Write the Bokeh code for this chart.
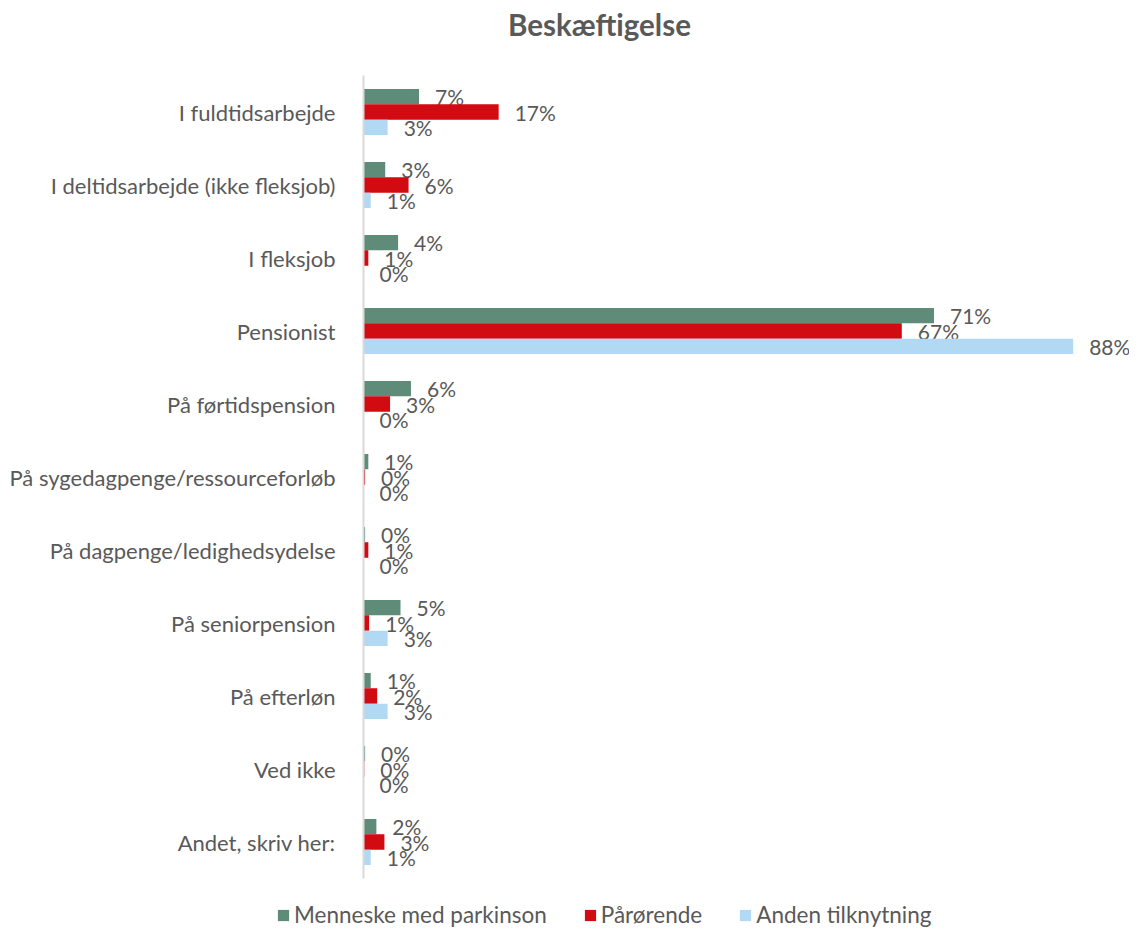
from bokeh.plotting import figure
from bokeh.models import FactorRange, Range1d, Legend, LegendItem, ColumnDataSource, Label
from bokeh.transform import dodge
from bokeh.core.properties import value
from bokeh.embed import file_html
from bokeh.resources import INLINE

categories = [
    "I fuldtidsarbejde",
    "I deltidsarbejde (ikke fleksjob)",
    "I fleksjob",
    "Pensionist",
    "På førtidspension",
    "På sygedagpenge/ressourceforløb",
    "På dagpenge/ledighedsydelse",
    "På seniorpension",
    "På efterløn",
    "Ved ikke",
    "Andet, skriv her:",
]
series_names = ["Menneske med parkinson", "Pårørende", "Anden tilknytning"]
parkinson = [6.9, 2.7, 4.3, 70.9, 5.9, 0.6, 0.2, 4.6, 0.9, 0.2, 1.6]
paaroerende = [16.8, 5.6, 0.6, 66.9, 3.3, 0.2, 0.6, 0.7, 1.7, 0.1, 2.6]
anden = [3.0, 0.9, 0.0, 88.2, 0.0, 0.0, 0.0, 3.0, 3.0, 0.0, 0.9]
colors = ["#5F8C78", "#D20A11", "#B1D9F3"]
title_text = "Beskæftigelse"

FONT = "Lato"
TXT = "#595959"
W = 1129


def labels(vals):
    return [f"{round(v):.0f}%" for v in vals]


def strip(height):
    f = figure(width=W, height=height, x_range=Range1d(0, 1), y_range=Range1d(0, 1),
               output_backend="svg", toolbar_location=None,
               min_border_left=0, min_border_right=0, min_border_top=0, min_border_bottom=0)
    f.outline_line_color = None
    f.xaxis.visible = False
    f.yaxis.visible = False
    f.xgrid.grid_line_color = None
    f.ygrid.grid_line_color = None
    return f


# title strip
tt = strip(48)
tt.add_layout(Label(x=599, y=24, x_units="screen", y_units="screen", text=title_text,
                    text_align="center", text_baseline="middle", text_font=FONT,
                    text_font_style="bold", text_font_size="29.5px", text_color=TXT))

src = ColumnDataSource(dict(
    cat=categories,
    s0=parkinson, s1=paaroerende, s2=anden,
    l0=labels(parkinson), l1=labels(paaroerende), l2=labels(anden),
))

p = figure(width=W, height=847,
           y_range=FactorRange(*categories[::-1]),
           x_range=Range1d(0, 95.2),
           output_backend="svg", toolbar_location=None,
           min_border_left=363, min_border_right=0,
           min_border_top=27, min_border_bottom=17)
p.outline_line_color = None
p.xaxis.visible = False
p.xgrid.grid_line_color = None
p.ygrid.grid_line_color = None
p.yaxis.axis_line_color = "#D9D9D9"
p.yaxis.axis_line_width = 2
p.yaxis.major_tick_line_color = None
p.yaxis.minor_tick_line_color = None
p.yaxis.major_label_standoff = 22
p.yaxis.major_label_text_font = FONT
p.yaxis.major_label_text_font_size = "22px"
p.yaxis.major_label_text_color = TXT

offsets = [0.21, 0.0, -0.21]
for i in range(3):
    p.hbar(y=dodge("cat", offsets[i], range=p.y_range), left=0, right=f"s{i}",
           height=0.21, fill_color=colors[i], line_color=None, source=src)
    p.text(x=f"s{i}", y=dodge("cat", offsets[i], range=p.y_range), text=f"l{i}",
           x_offset=16, text_align="left", text_baseline="middle",
           text_font=value(FONT), text_font_size="21px", text_color=TXT, source=src)

# legend strip
lg = strip(33)
items = []
for i in range(3):
    r = lg.hbar(y=[-10], left=[0], right=[1], height=0.5, fill_color=colors[i], line_color=None)
    items.append(LegendItem(label=series_names[i], renderers=[r]))
legend = Legend(items=items, orientation="horizontal", location=(276, 0),
                border_line_color=None, background_fill_alpha=0,
                padding=0, margin=0, spacing=36,
                glyph_width=14, glyph_height=14, label_standoff=4,
                label_text_font=FONT, label_text_font_size="22.5px",
                label_text_color=TXT)
lg.add_layout(legend)

open("out.html", "w").write(file_html([tt, p, lg], INLINE))
